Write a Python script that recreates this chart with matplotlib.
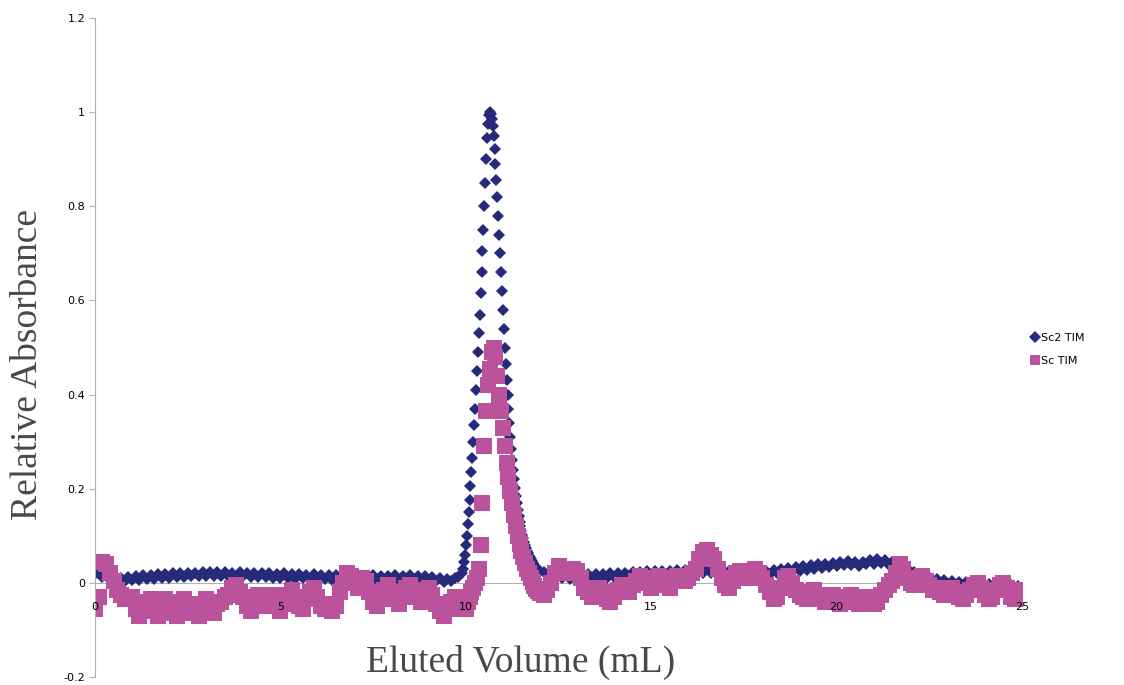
import numpy as np
import matplotlib
matplotlib.use("Agg")
import matplotlib.pyplot as plt

## DATOS

# Sc2 TIM - linea base 0.0 a 9.9 mL (paso 0.1)
azul_base1 = [0.018, 0.026, 0.012, 0.018, 0.006, 0.012, 0.004, 0.011, 0.003, 0.012,
              0.006, 0.015, 0.007, 0.016, 0.008, 0.017, 0.009, 0.018, 0.010, 0.019,
              0.011, 0.020, 0.012, 0.021, 0.013, 0.022, 0.014, 0.022, 0.015, 0.023,
              0.014, 0.024, 0.015, 0.023, 0.014, 0.024, 0.015, 0.022, 0.013, 0.023,
              0.014, 0.022, 0.013, 0.021, 0.012, 0.021, 0.012, 0.020, 0.011, 0.019,
              0.011, 0.020, 0.010, 0.019, 0.009, 0.018, 0.010, 0.017, 0.008, 0.018,
              0.009, 0.017, 0.008, 0.016, 0.007, 0.017, 0.006, 0.016, 0.008, 0.015,
              0.007, 0.016, 0.006, 0.015, 0.005, 0.016, 0.007, 0.015, 0.006, 0.014,
              0.007, 0.016, 0.006, 0.015, 0.007, 0.016, 0.008, 0.014, 0.006, 0.015,
              0.005, 0.013, 0.003, 0.011, 0.002, 0.009, 0.003, 0.010, 0.012, 0.022]

# Sc2 TIM - pico 9.925 a 12.0 mL (paso 0.025)
azul_pico = [0.030, 0.045, 0.060, 0.080, 0.100, 0.125, 0.150, 0.175, 0.205, 0.235,
             0.265, 0.300, 0.335, 0.370, 0.410, 0.450, 0.490, 0.530, 0.570, 0.615,
             0.660, 0.705, 0.750, 0.800, 0.850, 0.900, 0.945, 0.975, 0.993, 1.000,
             0.995, 0.985, 0.970, 0.950, 0.922, 0.890, 0.856, 0.820, 0.780, 0.740,
             0.700, 0.660, 0.620, 0.580, 0.540, 0.500, 0.465, 0.430, 0.400, 0.370,
             0.340, 0.310, 0.285, 0.260, 0.240, 0.220, 0.202, 0.185, 0.170, 0.155,
             0.142, 0.130, 0.120, 0.110, 0.102, 0.095, 0.087, 0.080, 0.074, 0.068,
             0.063, 0.058, 0.054, 0.050, 0.046, 0.043, 0.040, 0.037, 0.034, 0.032,
             0.030, 0.028, 0.026, 0.025]

# Sc2 TIM - linea base 12.1 a 25.0 mL (paso 0.1)
azul_base2 = [0.024, 0.016, 0.022, 0.012, 0.019, 0.010, 0.018, 0.009, 0.017,
              0.009, 0.017, 0.008, 0.018, 0.009, 0.019, 0.010, 0.019, 0.011, 0.020,
              0.012, 0.021, 0.013, 0.022, 0.014, 0.023, 0.015, 0.024, 0.016, 0.025,
              0.016, 0.025, 0.017, 0.026, 0.018, 0.026, 0.019, 0.027, 0.019, 0.028,
              0.020, 0.028, 0.021, 0.029, 0.021, 0.030, 0.021, 0.028, 0.020, 0.027,
              0.018, 0.026, 0.017, 0.025, 0.016, 0.025, 0.016, 0.024, 0.017, 0.025,
              0.017, 0.026, 0.018, 0.027, 0.020, 0.029, 0.022, 0.031, 0.024, 0.033,
              0.026, 0.035, 0.028, 0.037, 0.030, 0.039, 0.032, 0.041, 0.034, 0.043,
              0.036, 0.045, 0.038, 0.046, 0.037, 0.044, 0.036, 0.045, 0.039, 0.048,
              0.041, 0.050, 0.042, 0.048, 0.038, 0.044, 0.033, 0.038, 0.027, 0.031,
              0.020, 0.024, 0.013, 0.017, 0.008, 0.012, 0.003, 0.008, 0.000, 0.006,
              -0.002, 0.004, -0.004, 0.002, -0.005, 0.001, -0.006, 0.000, -0.007, -0.001,
              -0.008, -0.002, -0.009, -0.003, -0.010, -0.004, -0.011, -0.005, -0.012, -0.006, -0.012]

# Sc TIM - linea base 0.0 a 9.9 mL (paso 0.1)
rosa_base1 = [-0.055, -0.030, 0.045, 0.040, 0.020, 0.005, -0.015, -0.025, -0.035, -0.030,
              -0.030, -0.055, -0.070, -0.060, -0.040, -0.035, -0.060, -0.070, -0.050, -0.035,
              -0.040, -0.065, -0.070, -0.050, -0.035, -0.045, -0.065, -0.060, -0.070, -0.045,
              -0.035, -0.060, -0.065, -0.045, -0.040, -0.030, -0.025, -0.010, -0.005, -0.020,
              -0.030, -0.050, -0.060, -0.040, -0.025, -0.030, -0.050, -0.040, -0.025, -0.045,
              -0.060, -0.045, -0.025, -0.015, -0.030, -0.050, -0.055, -0.035, -0.020, -0.010,
              -0.030, -0.050, -0.055, -0.045, -0.060, -0.050, -0.020, 0.000, 0.020, 0.015,
              0.005, -0.010, 0.010, 0.005, -0.020, -0.040, -0.050, -0.035, -0.015, -0.005,
              -0.020, -0.035, -0.045, -0.030, -0.010, -0.005, -0.015, -0.030, -0.040, -0.020,
              -0.010, -0.025, -0.045, -0.060, -0.070, -0.055, -0.040, -0.030, -0.045, -0.055]

# Sc TIM - pico 10.0 a 12.0 mL (paso 0.05)
rosa_pico = [-0.055, -0.040, -0.030, -0.020, -0.010, 0.000, 0.010, 0.030, 0.080, 0.170,
             0.290, 0.365, 0.420, 0.455, 0.490, 0.500, 0.480, 0.440, 0.400, 0.365,
             0.330, 0.290, 0.255, 0.225, 0.195, 0.170, 0.145, 0.120, 0.100, 0.082,
             0.068, 0.055, 0.042, 0.030, 0.020, 0.010, 0.002, -0.006, -0.012, -0.018,
             -0.022]

# Sc TIM - linea base 12.1 a 25.0 mL (paso 0.1)
rosa_base2 = [-0.025, -0.015, 0.000, 0.020, 0.035, 0.030, 0.025, 0.020, 0.030,
              0.025, 0.010, -0.010, -0.020, -0.030, -0.020, -0.010, -0.020, -0.035, -0.040,
              -0.030, -0.015, -0.005, -0.010, -0.020, -0.005, 0.005, 0.015, 0.010, 0.000,
              -0.010, 0.005, 0.015, 0.010, -0.005, -0.010, 0.005, 0.015, 0.010, 0.005,
              0.010, 0.020, 0.030, 0.050, 0.065, 0.070, 0.060, 0.050, 0.030, 0.010,
              -0.005, -0.010, 0.005, 0.020, 0.025, 0.015, 0.010, 0.020, 0.030, 0.020,
              0.010, -0.005, -0.020, -0.035, -0.030, -0.010, 0.010, 0.015, 0.000, -0.015,
              -0.025, -0.030, -0.035, -0.020, -0.015, -0.025, -0.035, -0.040, -0.030, -0.025,
              -0.035, -0.045, -0.040, -0.030, -0.025, -0.035, -0.045, -0.040, -0.030, -0.035,
              -0.045, -0.040, -0.025, -0.015, -0.005, 0.005, 0.020, 0.040, 0.030, 0.010,
              0.000, -0.005, 0.005, 0.015, 0.005, -0.005, -0.015, -0.010, -0.020, -0.025,
              -0.015, -0.010, -0.020, -0.030, -0.035, -0.025, -0.015, -0.005, 0.000, -0.010,
              -0.025, -0.035, -0.030, -0.015, -0.005, 0.000, -0.010, -0.030, -0.035, -0.025, -0.015]

## VOLUMENES

vol_azul = np.concatenate([0.0 + 0.1 * np.arange(len(azul_base1)),
                           9.925 + 0.025 * np.arange(len(azul_pico)),
                           12.1 + 0.1 * np.arange(len(azul_base2))])
abs_azul = np.array(azul_base1 + azul_pico + azul_base2)

vol_rosa = np.concatenate([0.0 + 0.1 * np.arange(len(rosa_base1)),
                           10.0 + 0.05 * np.arange(len(rosa_pico)),
                           12.1 + 0.1 * np.arange(len(rosa_base2))])
abs_rosa = np.array(rosa_base1 + rosa_pico + rosa_base2)

## GRAFICO

fig = plt.figure(figsize=(11.24, 6.85), dpi=100)
ax = fig.add_axes([95 / 1124, 8 / 685, (1022 - 95) / 1124, (677 - 18) / 685])

ax.plot(vol_azul, abs_azul, linestyle="none", marker="D", markersize=6.5,
        color="#262a7b", markeredgewidth=0, label="Sc2 TIM")
ax.plot(vol_rosa, abs_rosa, linestyle="none", marker="s", markersize=12,
        color="#bb529c", markeredgewidth=0, label="Sc TIM")

ax.set_xlim(0, 25)
ax.set_ylim(-0.2, 1.2)
ax.set_xticks([0, 5, 10, 15, 20, 25])
ax.set_yticks([-0.2, 0, 0.2, 0.4, 0.6, 0.8, 1.0, 1.2])
ax.set_yticklabels(["-0.2", "0", "0.2", "0.4", "0.6", "0.8", "1", "1.2"])

ax.spines["top"].set_visible(False)
ax.spines["right"].set_visible(False)
ax.spines["bottom"].set_position(("data", 0))
ax.spines["bottom"].set_color("#b0b0b0")
ax.spines["left"].set_color("#b0b0b0")
ax.spines["bottom"].set_zorder(0)
ax.xaxis.set_zorder(5)

ax.tick_params(axis="x", length=0, pad=14, labelsize=8)
ax.tick_params(axis="y", length=4, color="#b0b0b0", labelsize=8, pad=3)

fig.text(28 / 1124, 1 - 365 / 685, "Relative Absorbance", rotation=90,
         ha="center", va="center", fontsize=27, family="Liberation Serif",
         color="#484848")
fig.text(521 / 1124, 1 - 662 / 685, "Eluted Volume (mL)", ha="center", va="center",
         fontsize=27, family="Liberation Serif", color="#484848")

leyenda = ax.legend(loc="center left", bbox_to_anchor=(0.997, 0.497), frameon=False,
                    fontsize=8, handletextpad=0.1, handlelength=1.0, labelspacing=1.1)
leyenda.legend_handles[0].set_markersize(6.5)
leyenda.legend_handles[1].set_markersize(7.5)

fig.savefig("out.png", dpi=100)
